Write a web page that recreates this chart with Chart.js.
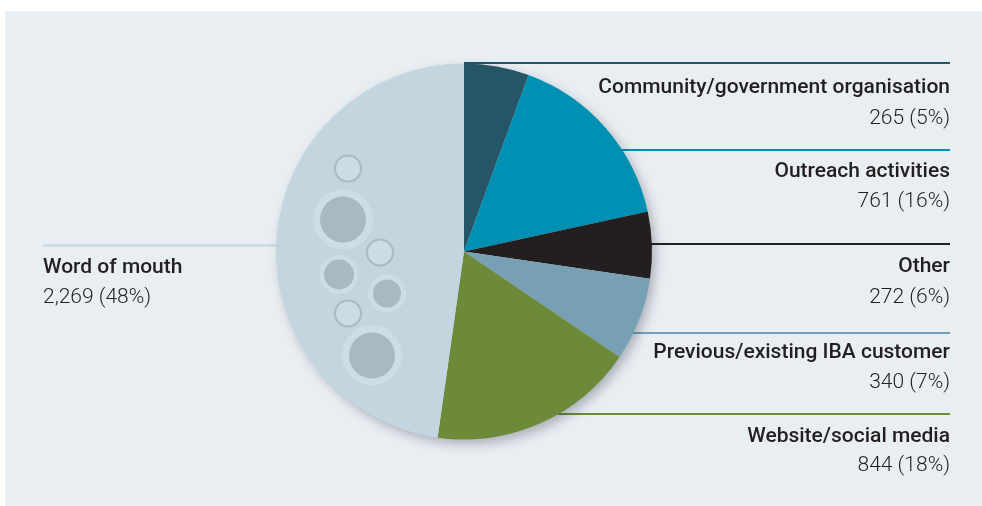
<!DOCTYPE html>
<html>
<head>
<meta charset="utf-8">
<script src="https://cdn.jsdelivr.net/npm/chart.js@4/dist/chart.umd.min.js"></script>
<style>
  html, body {
    margin: 0;
    padding: 0;
    background: #ffffff;
  }

  .panel {
    position: absolute;
    left: 5px;
    top: 11px;
    right: 0;
    bottom: 0;
    background: #e9eef3;
  }

  #referralChart {
    position: absolute;
    left: 0;
    top: 0;
  }
</style>
</head>
<body>
<div class="panel"></div>
<canvas id="referralChart" width="982" height="506"></canvas>

<script>
/* Referral sources */

const categories = [
  "Community/government organisation",
  "Outreach activities",
  "Other",
  "Previous/existing IBA customer",
  "Website/social media",
  "Word of mouth",
];
const counts = [265, 761, 272, 340, 844, 2269];
const shares = [5, 16, 6, 7, 18, 48];

const sliceColours = [
  "#265566",
  "#0090b4",
  "#231f20",
  "#77a0b4",
  "#6d8a3a",
  "#c3d5df",
];

// label rows: leader line y, title and value baselines
const labelRows = [
  { side: "right", lineY: 63, titleY: 93, valueY: 124 },
  { side: "right", lineY: 150, titleY: 177, valueY: 207 },
  { side: "right", lineY: 244, titleY: 272, valueY: 303 },
  { side: "right", lineY: 333, titleY: 358, valueY: 388 },
  { side: "right", lineY: 414, titleY: 442, valueY: 471 },
  { side: "left", lineY: 245.5, titleY: 273, valueY: 303 },
];

// bubbles inside the word of mouth slice, offsets from the pie centre
const bubbles = [
  { dx: -116, dy: -83, r: 14, hollow: true },
  { dx: -121, dy: -32, r: 23, halo: 30 },
  { dx: -84, dy: 1, r: 14, hollow: true },
  { dx: -125, dy: 23, r: 15, halo: 19.5 },
  { dx: -77, dy: 42, r: 14, halo: 19 },
  { dx: -116, dy: 62, r: 14, hollow: true },
  { dx: -92, dy: 104, r: 23, halo: 30 },
];

const textColour = "#231f20";
const rightEdge = 950;
const leftEdge = 43;

function valueText(index) {
  return counts[index].toLocaleString("en-US") + " (" + shares[index] + "%)";
}

function pieGeometry(chart) {
  const arc = chart.getDatasetMeta(0).data[0];
  return { x: arc.x, y: arc.y, r: arc.outerRadius };
}

// half chord of the pie at height y (0 above or below the pie)
function halfChord(geo, y) {
  const dy = y - geo.y;
  return Math.abs(dy) >= geo.r ? 0 : Math.sqrt(geo.r * geo.r - dy * dy);
}

const pieExtras = {
  id: "pieExtras",
  beforeDatasetsDraw(chart) {
    const ctx = chart.ctx;
    const geo = pieGeometry(chart);

    // leader lines sit under the pie
    labelRows.forEach((row, i) => {
      const half = halfChord(geo, row.lineY);
      const tuck = half > 0 ? 4 : 0;
      ctx.save();
      ctx.strokeStyle = sliceColours[i];
      ctx.lineWidth = 2;
      ctx.beginPath();
      if (row.side === "right") {
        ctx.moveTo(geo.x + half - tuck, row.lineY);
        ctx.lineTo(rightEdge, row.lineY);
      } else {
        ctx.moveTo(leftEdge, row.lineY);
        ctx.lineTo(geo.x - half + tuck, row.lineY);
      }
      ctx.stroke();
      ctx.restore();
    });

    // soft drop shadow behind the whole pie
    ctx.save();
    ctx.shadowColor = "rgba(40, 50, 60, 0.35)";
    ctx.shadowBlur = 12;
    ctx.shadowOffsetX = 4;
    ctx.shadowOffsetY = 5;
    ctx.fillStyle = "#c3d5df";
    ctx.beginPath();
    ctx.arc(geo.x, geo.y, geo.r - 1, 0, Math.PI * 2);
    ctx.fill();
    ctx.restore();
  },
  afterDatasetsDraw(chart) {
    const ctx = chart.ctx;
    const geo = pieGeometry(chart);

    bubbles.forEach((b) => {
      const x = geo.x + b.dx;
      const y = geo.y + b.dy;
      ctx.save();
      if (b.hollow) {
        ctx.fillStyle = "#cbdce5";
        ctx.strokeStyle = "#a9bac3";
        ctx.lineWidth = 2;
        ctx.beginPath();
        ctx.arc(x, y, b.r - 1, 0, Math.PI * 2);
        ctx.fill();
        ctx.stroke();
      } else {
        ctx.fillStyle = "#cddde6";
        ctx.beginPath();
        ctx.arc(x, y, b.halo, 0, Math.PI * 2);
        ctx.fill();
        ctx.fillStyle = "#a9b9c1";
        ctx.beginPath();
        ctx.arc(x, y, b.r, 0, Math.PI * 2);
        ctx.fill();
      }
      ctx.restore();
    });
  },
  afterDraw(chart) {
    const ctx = chart.ctx;

    labelRows.forEach((row, i) => {
      const x = row.side === "right" ? rightEdge : leftEdge;
      ctx.save();
      ctx.fillStyle = textColour;
      ctx.textAlign = row.side === "right" ? "right" : "left";
      ctx.textBaseline = "alphabetic";
      ctx.font = "500 21px Roboto";
      ctx.fillText(categories[i], x, row.titleY);
      ctx.font = "300 21px Roboto";
      ctx.fillText(valueText(i), x, row.valueY);
      ctx.restore();
    });
  },
};

const referralChartCanvas = document.getElementById("referralChart");

if (referralChartCanvas && typeof Chart !== "undefined") {
  new Chart(referralChartCanvas, {
    type: "pie",
    data: {
      labels: categories,
      datasets: [
        {
          data: counts,
          backgroundColor: sliceColours,
          borderWidth: 0,
          hoverOffset: 0,
        },
      ],
    },
    options: {
      responsive: false,
      animation: false,
      events: [],
      radius: 188,
      layout: {
        padding: {
          left: 276,
          right: 330,
          top: 63.5,
          bottom: 66.5,
        },
      },
      plugins: {
        legend: {
          display: false,
        },
        tooltip: {
          enabled: false,
        },
      },
    },
    plugins: [pieExtras],
  });
}
</script>
</body>
</html>
